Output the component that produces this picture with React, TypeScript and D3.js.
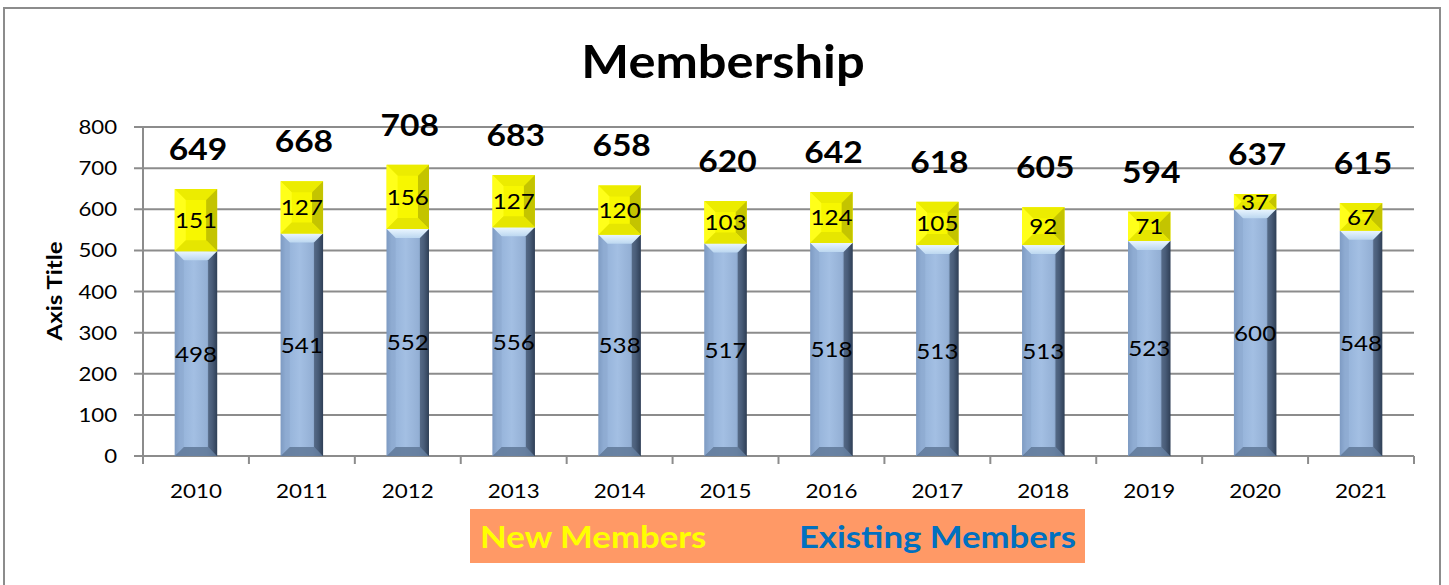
import React from "react";
import * as d3 from "d3";

const years = ["2010","2011","2012","2013","2014","2015","2016","2017","2018","2019","2020","2021"];
const existingMembers = [498,541,552,556,538,517,518,513,513,523,600,548];
const newMembers = [151,127,156,127,120,103,124,105,92,71,37,67];
const totals = [649,668,708,683,658,620,642,618,605,594,637,615];
const yTicks = [0,100,200,300,400,500,600,700,800];

const W = 1449, H = 585;
const FONT = "Lato, 'Open Sans', sans-serif";

function bevelPolys(x: number, y0: number, w: number, h: number, b: number) {
  const bb = Math.min(b, h / 2, w / 2);
  const x1 = x + w, y1 = y0 + h;
  return {
    top: [[x, y0],[x1, y0],[x1 - bb, y0 + bb],[x + bb, y0 + bb]],
    bottom: [[x, y1],[x1, y1],[x1 - bb, y1 - bb],[x + bb, y1 - bb]],
    left: [[x, y0],[x + bb, y0 + bb],[x + bb, y1 - bb],[x, y1]],
    right: [[x1, y0],[x1 - bb, y0 + bb],[x1 - bb, y1 - bb],[x1, y1]],
  };
}
const pts = (p: number[][]) => p.map(q => q.join(",")).join(" ");

function T(props: { x: number; y: number; sx?: number; rot?: number; size: number; bold?: boolean; anchor?: string; fill?: string; children: React.ReactNode }) {
  const { x, y, sx = 1, rot = 0, size, bold, anchor = "start", fill = "#000", children } = props;
  return (
    <text
      transform={`translate(${x},${y})${rot ? ` rotate(${rot})` : ""} scale(${sx},1)`}
      textAnchor={anchor as any}
      fontFamily={FONT}
      fontWeight={bold ? 700 : 400}
      fontSize={size}
      fill={fill}
    >
      {children}
    </text>
  );
}

export default function App() {
  const left = 143, right = 1414, top = 127, bottom = 456;
  const x = d3.scaleBand<string>().domain(years).range([left, right]).paddingInner(0.6).paddingOuter(0.3);
  const y = d3.scaleLinear().domain([0, 800]).range([bottom, top]);
  const step = x.step();
  const bw = x.bandwidth();

  return (
    <svg width={W} height={H} style={{ position: "absolute", left: 0, top: 0, display: "block" }}>
      <defs>
        <linearGradient id="blueG" x1="0" x2="1" y1="0" y2="0">
          <stop offset="0%" stopColor="#7391bb" />
          <stop offset="12%" stopColor="#93b1d8" />
          <stop offset="45%" stopColor="#a3bfe3" />
          <stop offset="75%" stopColor="#94b0d5" />
          <stop offset="88%" stopColor="#6d87aa" />
          <stop offset="100%" stopColor="#34465e" />
        </linearGradient>
        <linearGradient id="blueTop" x1="0" x2="0" y1="0" y2="1">
          <stop offset="0%" stopColor="#eaf6ff" />
          <stop offset="100%" stopColor="#bcd7f0" />
        </linearGradient>
      </defs>
      <rect x={0} y={0} width={W} height={H} fill="#ffffff" />
      <rect x={4} y={8} width={1436} height={590} fill="#ffffff" stroke="#8c8c8c" strokeWidth={2} />

      <T x={723} y={78} sx={1.1} size={46} bold anchor="middle">Membership</T>

      {yTicks.map(t => (
        <g key={t}>
          <line x1={134} x2={right} y1={y(t)} y2={y(t)} stroke="#8c8c8c" strokeWidth={2} />
          <T x={117} y={y(t) + 7} sx={1.11} size={20} anchor="end">{t}</T>
        </g>
      ))}
      <line x1={left} x2={left} y1={top} y2={bottom + 7} stroke="#8c8c8c" strokeWidth={2} />
      {d3.range(years.length + 1).map(i => (
        <line key={i} x1={left + step * i} x2={left + step * i} y1={bottom} y2={bottom + 8} stroke="#8c8c8c" strokeWidth={2} />
      ))}

      <T x={62} y={291} rot={-90} sx={1.2} size={20} bold anchor="middle">Axis Title</T>

      {years.map((yr, i) => {
        const bx = x(yr) as number;
        const yE = y(existingMembers[i]);
        const hE = bottom - yE;
        const yT = y(totals[i]);
        const hN = yE - yT;
        const be = bevelPolys(bx, yE, bw, hE, 9);
        const bn = bevelPolys(bx, yT, bw, hN, 11);
        const cx = bx + bw / 2;
        return (
          <g key={yr}>
            <rect x={bx} y={yE} width={bw} height={hE} fill="url(#blueG)" />
            <polygon points={pts(be.top)} fill="url(#blueTop)" />
            <polygon points={pts(be.bottom)} fill="#5f7898" opacity={0.85} />
            <polygon points={pts(be.left)} fill="#8aa6cc" opacity={0.5} />
            <polygon points={pts(be.right)} fill="#2c3b50" opacity={0.55} />

            <rect x={bx} y={yT} width={bw} height={hN} fill="#f7f700" />
            <polygon points={pts(bn.top)} fill="#ecec00" />
            <polygon points={pts(bn.left)} fill="#ffff1a" />
            <polygon points={pts(bn.right)} fill="#c4c400" />
            <polygon points={pts(bn.bottom)} fill="#e6e600" />

            <T x={cx} y={(yE + yT) / 2 + 8} sx={1.1} size={22} anchor="middle">{newMembers[i]}</T>
            <T x={cx} y={(yE + bottom) / 2 + 8} sx={1.1} size={22} anchor="middle">{existingMembers[i]}</T>
            <T x={cx + 2} y={yT - 29} sx={1.12} size={30} bold anchor="middle">{totals[i]}</T>
            <T x={left + step * (i + 0.5)} y={498} sx={1.12} size={20} anchor="middle">{yr}</T>
          </g>
        );
      })}

      <rect x={470} y={509} width={615} height={54} fill="#ff9966" />
      <T x={480} y={548} sx={1.12} size={31} bold fill="#ffff00">New Members</T>
      <T x={1076} y={548} sx={1.12} size={31} bold anchor="end" fill="#0070c0">Existing Members</T>
    </svg>
  );
}
